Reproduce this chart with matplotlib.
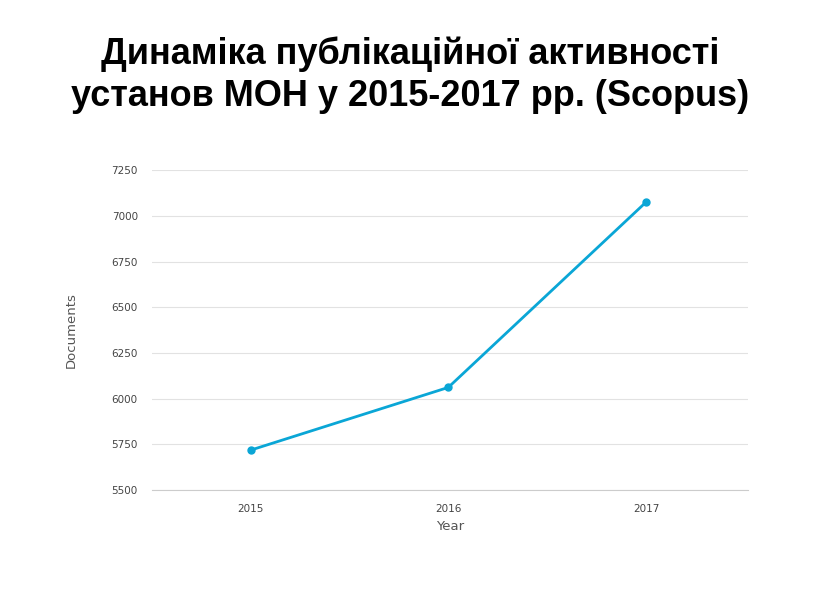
import matplotlib.pyplot as plt

years = [2015, 2016, 2017]
documents = [5719, 6062, 7075]
yticks = [5500, 5750, 6000, 6250, 6500, 6750, 7000, 7250]

fig = plt.figure(figsize=(8.2, 6.12), dpi=100)
fig.patch.set_facecolor("white")

fig.text(0.5, 0.912, "Динаміка публікаційної активності", ha="center", va="center",
         fontsize=26, weight="bold", family="Liberation Sans")
fig.text(0.5, 0.843, "установ МОН у 2015-2017 рр. (Scopus)", ha="center", va="center",
         fontsize=26, weight="bold", family="Liberation Sans")

ax = fig.add_axes([0.185, 0.199, 0.727, 0.523])
ax.plot(years, documents, color="#0aa6d6", lw=2, marker="o", ms=5, zorder=3)
ax.set_xlim(2014.5, 2017.515)
ax.set_ylim(5500, 7250)
ax.set_xticks(years)
ax.set_yticks(yticks)
ax.grid(axis="y", color="#e2e2e2", lw=0.8)
for s in ["top", "right", "left"]:
    ax.spines[s].set_visible(False)
ax.spines["bottom"].set_color("#cccccc")
ax.tick_params(length=0, labelsize=7.5, colors="#444444", pad=10)
ax.set_xlabel("Year", fontsize=9.5, color="#555555")
ax.set_ylabel("Documents", fontsize=9.5, color="#555555", labelpad=24)

fig.savefig("out.png", dpi=100, facecolor="white")
